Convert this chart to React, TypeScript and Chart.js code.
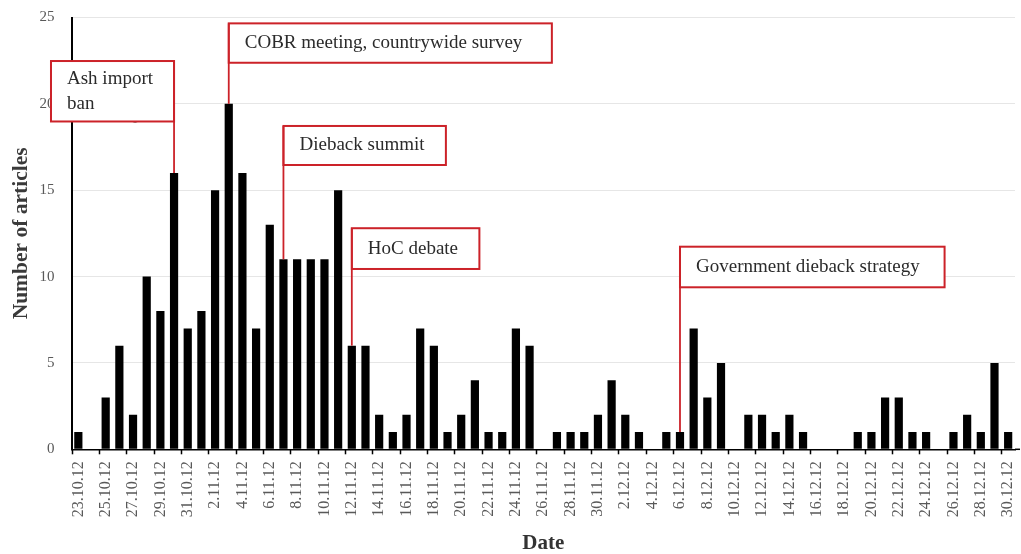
import React, { useEffect, useRef } from "react";
import { Chart, registerables } from "chart.js";

Chart.register(...registerables);

const DATES: string[] = [
  "23.10.12", "24.10.12", "25.10.12", "26.10.12", "27.10.12", "28.10.12", "29.10.12", "30.10.12", "31.10.12",
  "1.11.12", "2.11.12", "3.11.12", "4.11.12", "5.11.12", "6.11.12", "7.11.12", "8.11.12", "9.11.12", "10.11.12",
  "11.11.12", "12.11.12", "13.11.12", "14.11.12", "15.11.12", "16.11.12", "17.11.12", "18.11.12", "19.11.12", "20.11.12",
  "21.11.12", "22.11.12", "23.11.12", "24.11.12", "25.11.12", "26.11.12", "27.11.12", "28.11.12", "29.11.12", "30.11.12",
  "1.12.12", "2.12.12", "3.12.12", "4.12.12", "5.12.12", "6.12.12", "7.12.12", "8.12.12", "9.12.12", "10.12.12",
  "11.12.12", "12.12.12", "13.12.12", "14.12.12", "15.12.12", "16.12.12", "17.12.12", "18.12.12", "19.12.12", "20.12.12",
  "21.12.12", "22.12.12", "23.12.12", "24.12.12", "25.12.12", "26.12.12", "27.12.12", "28.12.12", "29.12.12", "30.12.12",
];

const ARTICLES: number[] = [
  1, 0, 3, 6, 2, 10, 8, 16, 7,
  8, 15, 20, 16, 7, 13, 11, 11, 11, 11,
  15, 6, 6, 2, 1, 2, 7, 6, 1, 2,
  4, 1, 1, 7, 6, 0, 1, 1, 1, 2,
  4, 2, 1, 0, 1, 1, 7, 3, 5, 0,
  2, 2, 1, 2, 1, 0, 0, 0, 1, 1,
  3, 3, 1, 1, 0, 1, 2, 1, 5, 1,
];

const Y_TICKS: number[] = [0, 5, 10, 15, 20, 25];

// Events annotated on the chart (text and date they point at)
const EVENT_TEXT: string[][] = [
  ["Ash import", "ban"],
  ["COBR meeting, countrywide survey"],
  ["Dieback summit"],
  ["HoC debate"],
  ["Government dieback strategy"],
];
const EVENT_DATE: string[] = ["30.10.12", "3.11.12", "7.11.12", "12.11.12", "6.12.12"];

// Box layout (category units for x, value units for y)
const EVENT_BOX = [
  { x0: -2.0, x1: 7.0, yTop: 22.48, yBottom: 18.98 },
  { x0: 11.0, x1: 34.63, yTop: 24.66, yBottom: 22.38 },
  { x0: 15.0, x1: 26.88, yTop: 18.72, yBottom: 16.46 },
  { x0: 20.0, x1: 29.33, yTop: 12.8, yBottom: 10.44 },
  { x0: 44.0, x1: 63.35, yTop: 11.73, yBottom: 9.38 },
];

const SERIF = '"Liberation Serif", "Times New Roman", serif';
const RED = "#cc2229";

const overlayPlugin = {
  id: "overlay",
  afterDraw(chart: any) {
    const { ctx, chartArea } = chart;
    const xs = chart.scales.x;
    const ys = chart.scales.y;
    const c0 = xs.getPixelForValue(0);
    const cw = xs.getPixelForValue(1) - c0;
    const px = (c: number) => c0 + c * cw;

    ctx.save();
    // x tick marks at every other category boundary
    ctx.strokeStyle = "#000";
    ctx.lineWidth = 1.5;
    for (let i = 0; i < DATES.length; i += 2) {
      const xx = Math.round(px(i - 0.5)) + 0.5;
      ctx.beginPath();
      ctx.moveTo(xx, chartArea.bottom);
      ctx.lineTo(xx, chartArea.bottom + 5);
      ctx.stroke();
    }
    // axis line extension to the right
    ctx.beginPath();
    ctx.moveTo(chartArea.right, chartArea.bottom);
    ctx.lineTo(chartArea.right + 5, chartArea.bottom);
    ctx.stroke();

    // dot artifact
    ctx.fillStyle = "#000";
    ctx.beginPath();
    ctx.ellipse(px(4.15), ys.getPixelForValue(19.07), 3.5, 2.5, 0, 0, Math.PI * 2);
    ctx.fill();

    // annotation boxes
    ctx.font = `19px ${SERIF}`;
    ctx.textBaseline = "middle";
    ctx.textAlign = "left";
    EVENT_BOX.forEach((b, k) => {
      const left = px(b.x0);
      const right = px(b.x1);
      const top = ys.getPixelForValue(b.yTop);
      const bottom = ys.getPixelForValue(b.yBottom);
      ctx.fillStyle = "#fff";
      ctx.fillRect(left, top, right - left, bottom - top);
      ctx.strokeStyle = RED;
      ctx.lineWidth = 2;
      ctx.strokeRect(left, top, right - left, bottom - top);
      const idx = DATES.indexOf(EVENT_DATE[k]);
      const lx = xs.getPixelForValue(idx);
      const barTop = ys.getPixelForValue(ARTICLES[idx]);
      ctx.lineWidth = 1.8;
      ctx.beginPath();
      ctx.moveTo(lx, top);
      ctx.lineTo(lx, barTop);
      ctx.stroke();
      const lines = EVENT_TEXT[k];
      ctx.fillStyle = "#2b2b2b";
      const lh = 25;
      const cy = (top + bottom) / 2 - ((lines.length - 1) * lh) / 2;
      lines.forEach((t, j) => {
        ctx.fillText(t, left + 16, cy + j * lh);
      });
    });
    ctx.restore();
  },
};

export default function App() {
  const ref = useRef<HTMLCanvasElement | null>(null);
  useEffect(() => {
    if (!ref.current) return;
    const chart = new Chart(ref.current, {
      type: "bar",
      data: {
        labels: DATES,
        datasets: [
          {
            data: ARTICLES,
            backgroundColor: "#000",
            borderWidth: 0,
            barPercentage: 0.6,
            categoryPercentage: 1,
          },
        ],
      },
      options: {
        animation: false,
        responsive: false,
        devicePixelRatio: 1,
        layout: { padding: { top: 17.5, right: 6, left: 0, bottom: 0 } },
        plugins: { legend: { display: false }, tooltip: { enabled: false } },
        scales: {
          x: {
            offset: true,
            grid: { display: false, drawTicks: false },
            border: { display: true, color: "#000", width: 1.5 },
            ticks: {
              autoSkip: false,
              minRotation: 90,
              maxRotation: 90,
              padding: 12,
              color: "#595959",
              font: { family: SERIF, size: 16 },
              callback: (_v: any, i: number) => (i % 2 === 0 ? DATES[i] : ""),
            },
            title: {
              display: true,
              text: "Date",
              color: "#333",
              font: { family: SERIF, size: 21, weight: "bold", lineHeight: 1 },
              padding: { top: 0, bottom: 0 },
            },
            afterFit: (s: any) => {
              s.height = 104.7;
              s.paddingLeft = 0;
              s.paddingRight = 0;
              s.paddingTop = 0;
              s.paddingBottom = 0;
            },
          },
          y: {
            min: 0,
            max: 25,
            grid: { color: "#e6e6e6", lineWidth: 1, drawTicks: false },
            border: { display: true, color: "#000", width: 2 },
            afterBuildTicks: (s: any) => {
              s.ticks = Y_TICKS.map((v) => ({ value: v }));
            },
            ticks: {
              padding: 17,
              color: "#595959",
              font: { family: SERIF, size: 15 },
            },
            title: {
              display: true,
              text: "Number of articles",
              color: "#3a3a3a",
              font: { family: SERIF, size: 21.5, weight: "bold", lineHeight: 1.2 },
              padding: { top: 9, bottom: 0 },
            },
            afterFit: (s: any) => {
              s.width = 71.5;
              s.paddingLeft = 0;
              s.paddingRight = 0;
              s.paddingTop = 0;
              s.paddingBottom = 0;
            },
          },
        },
      },
      plugins: [overlayPlugin],
    } as any);
    return () => chart.destroy();
  }, []);
  return (
    <div style={{ position: "absolute", left: 0, top: 0, width: 1021, height: 554, background: "#fff" }}>
      <canvas ref={ref} width={1021} height={554} />
    </div>
  );
}
